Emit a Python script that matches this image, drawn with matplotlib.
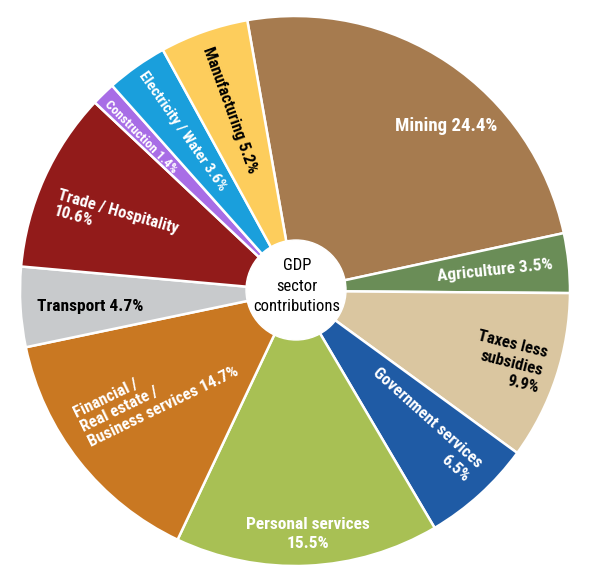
import matplotlib
matplotlib.use("Agg")
import matplotlib.pyplot as plt
from matplotlib import font_manager as fm
from matplotlib.patches import Circle

# ---- data ----
sectors = ["Mining", "Agriculture", "Taxes less subsidies", "Government services",
           "Personal services", "Financial / Real estate / Business services",
           "Transport", "Trade / Hospitality", "Construction",
           "Electricity / Water", "Manufacturing"]
shares = [24.4, 3.5, 9.9, 6.5, 15.5, 14.7, 4.7, 10.6, 1.4, 3.6, 5.2]
label_texts = ["Mining 24.4%", "Agriculture 3.5%", "Taxes less\nsubsidies\n9.9%",
               "Government services\n6.5%", "Personal services\n15.5%",
               "Financial /\nReal estate /\nBusiness services 14.7%",
               "Transport 4.7%", "Trade / Hospitality\n10.6%", "Construction 1.4%",
               "Electricity / Water 3.6%", "Manufacturing 5.2%"]
center_text = "GDP\nsector\ncontributions"

# ---- styles / layout ----
colors = ["#A67B4F", "#6A8D57", "#DAC6A0", "#1F5BA5", "#A8C054", "#C97822",
          "#C8CACC", "#921B1A", "#A86DE6", "#1A9FDC", "#FDCD5C"]
text_colors = ["white", "white", "black", "white", "white", "white",
               "black", "white", "white", "white", "black"]
# pixel positions (image coords), rotation, multialignment, fontsize, linespacing
label_layout = [
    ((446, 126), 0, "center", 13.5, 1.1),
    ((495, 270), 6, "center", 12.5, 1.1),
    ((508, 362), -14, "right", 12, 1.3),
    ((421, 425), -42, "right", 12, 1.25),
    ((308, 534), 0, "center", 12.5, 1.3),
    ((156, 392), 26, "left", 12, 1.1),
    ((90, 306), 0, "center", 12.5, 1.1),
    ((116, 220), -16, "left", 12, 1.1),
    ((141, 137), -45, "center", 9.5, 1.1),
    ((182, 131), -55, "center", 11, 1.1),
    ((230, 110), -70, "center", 12, 1.1),
]

avail = {f.name for f in fm.fontManager.ttflist}
family = "DejaVu Sans"
for cand in ["Liberation Sans Narrow", "DejaVu Sans Condensed", "Roboto Condensed",
             "Open Sans Condensed", "Noto Sans Condensed"]:
    if cand in avail:
        family = cand
        break
plt.rcParams["font.family"] = [family, "DejaVu Sans"]

W, H = 592, 588
CX, CY, R = 295, 291, 275

fig = plt.figure(figsize=(W / 100, H / 100), dpi=100)
ax = fig.add_axes([0, 0, 1, 1])
ax.pie(shares, colors=colors, startangle=100, counterclock=False,
       radius=R, center=(0, 0),
       wedgeprops=dict(edgecolor="white", linewidth=1.8))
ax.set_xlim(-CX, W - CX)
ax.set_ylim(-(H - CY), CY)
ax.set_aspect("auto")
ax.axis("off")

ax.add_patch(Circle((1, 1), 50, facecolor="white", edgecolor="white", zorder=5))
ax.text(2, 5, center_text, ha="center", va="center", fontsize=12,
        color="black", linespacing=1.45, zorder=6)

for txt, col, ((px, py), rot, ma, fs, ls) in zip(label_texts, text_colors, label_layout):
    ax.text(px - CX, CY - py, txt, ha="center", va="center", rotation=rot,
            rotation_mode="anchor", multialignment=ma, fontsize=fs,
            fontweight="bold", color=col, linespacing=ls, zorder=6)

fig.savefig("out.png", dpi=100)
